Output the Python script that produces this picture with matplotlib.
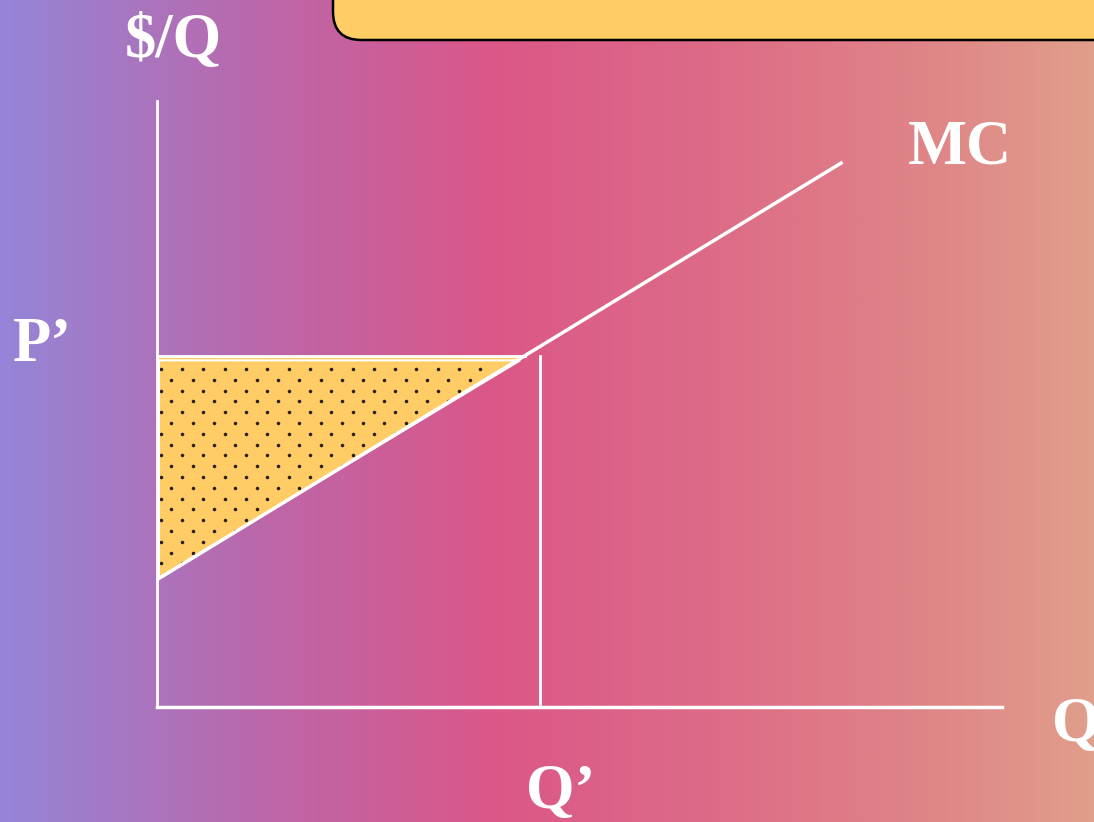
import numpy as np
import matplotlib

matplotlib.use("Agg")
import matplotlib.pyplot as plt
from matplotlib.colors import LinearSegmentedColormap
from matplotlib.patches import Polygon, FancyBboxPatch

# Chart values (units: quantity on x, $/Q on y)
q_axis_end = 8.82
p_axis_top = 6.33
mc_q = [0.0, 7.16]
mc_p = [1.33, 5.69]
q_prime = 4.0
p_prime = 3.67
q_meet = (p_prime - mc_p[0]) / ((mc_p[1] - mc_p[0]) / (mc_q[1] - mc_q[0]))

# Background gradient stops (fraction across, colour)
grad_stops = [0.0, 0.12, 0.25, 0.45, 0.65, 0.85, 1.0]
grad_colors = ["#9585d9", "#a876c0", "#bd66a8", "#db5788",
               "#dd6b87", "#df8587", "#e19e8b"]

YELLOW = "#ffcc66"
WHITE = "white"
SERIF = ["Liberation Serif", "DejaVu Serif"]

fig = plt.figure(figsize=(10.94, 8.22), dpi=100)

bg = fig.add_axes([0, 0, 1, 1])
bg.set_axis_off()
cmap = LinearSegmentedColormap.from_list("bg", list(zip(grad_stops, grad_colors)))
bg.imshow(np.linspace(0, 1, 512)[None, :], aspect="auto", cmap=cmap,
          extent=[0, 1, 0, 1], origin="lower")
bg.set_xlim(0, 1)
bg.set_ylim(0, 1)

# yellow title box, cut off at the top right
bg.add_patch(FancyBboxPatch((333 / 1094, 1 - 40 / 822), 0.8, 0.2,
                            boxstyle="round,pad=0,rounding_size=0.026",
                            facecolor=YELLOW, edgecolor="black", linewidth=1.8,
                            mutation_aspect=1094 / 822))

ax = fig.add_axes([0, 0, 1, 1])
ax.set_axis_off()
scale = 95.75
ax.set_xlim(-157 / scale, (1094 - 157) / scale)
ax.set_ylim(-(822 - 707) / scale, 707 / scale)

# shaded producer-surplus triangle with a dotted texture
tri = Polygon([(0, mc_p[0]), (0, p_prime), (q_meet, p_prime)], closed=True,
              facecolor=YELLOW, edgecolor="none")
ax.add_patch(tri)
dx, dy = 21.3 / scale, 10.8 / scale
rows = np.arange(p_prime - 0.14, mc_p[0], -dy)
gx, gy = [], []
for i, y in enumerate(rows):
    xs = np.arange(0.04 + (dx / 2 if i % 2 else 0), q_meet, dx)
    gx.extend(xs)
    gy.extend([y] * len(xs))
dots = ax.scatter(gx, gy, s=6.5, color="#2a2020", linewidths=0)
dots.set_clip_path(tri)
ax.add_patch(Polygon([(0.02, mc_p[0] + 0.02), (0.02, p_prime - 0.05),
                      (q_meet - 0.05, p_prime - 0.05)], closed=True,
                     facecolor="none", edgecolor=WHITE, linewidth=1.5))

# axes
ax.plot([0, 0], [0, p_axis_top], color=WHITE, lw=2)
ax.plot([0, q_axis_end], [0, 0], color=WHITE, lw=2.5)

# MC curve and reference lines
ax.plot(mc_q, mc_p, color=WHITE, lw=2.5, solid_capstyle="butt")
ax.plot([0, q_meet], [p_prime, p_prime], color=WHITE, lw=2)
ax.plot([q_prime, q_prime], [0, p_prime], color=WHITE, lw=2)

# labels
kw = dict(color=WHITE, fontfamily=SERIF, fontweight="bold", fontsize=45,
          ha="center", va="center")
ax.text(0.17, p_axis_top + 0.62, "$/Q", **kw)
ax.text(8.39, 5.83, "MC", **kw)
ax.text(-1.2, p_prime + 0.1, "P\u2019", **kw)
ax.text(4.22, -0.9, "Q\u2019", **kw)
ax.text(9.35, -0.2, "Q", ha="left", va="center", color=WHITE,
        fontfamily=SERIF, fontweight="bold", fontsize=45)

fig.savefig("out.png", dpi=100)
